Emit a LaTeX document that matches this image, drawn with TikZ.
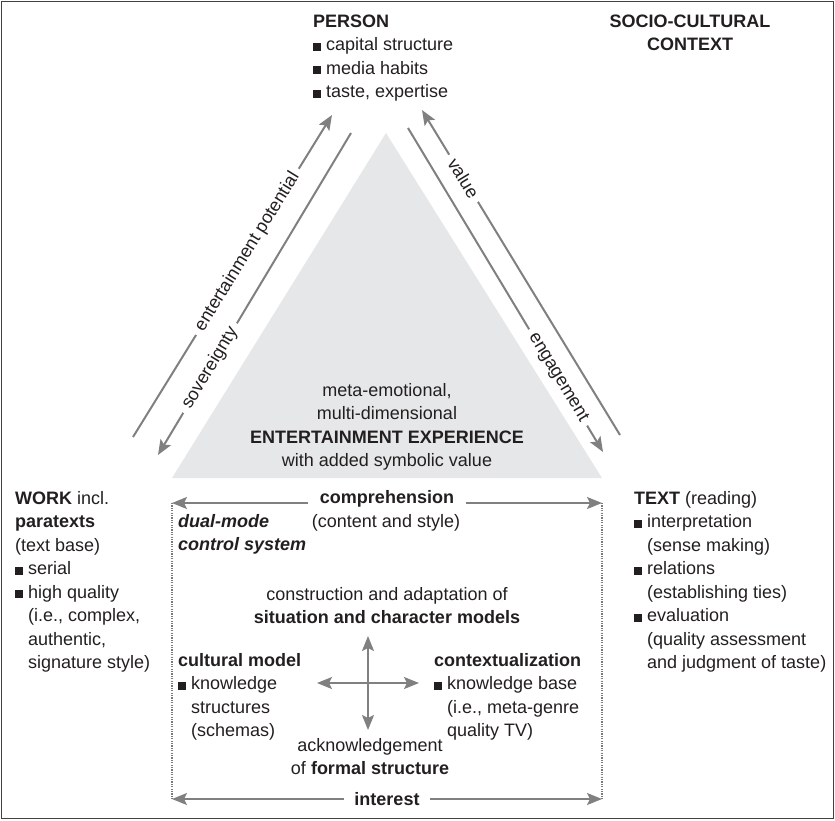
\documentclass[tikz,border=0pt]{standalone}
\usepackage{fontspec}
\setmainfont{Liberation Sans}
\usetikzlibrary{arrows.meta}
\definecolor{ink}{HTML}{231F20}
\definecolor{arr}{HTML}{808080}
\definecolor{tri}{HTML}{E6E7E8}
% square bullet and the indent that lines up with it
\newcommand\sq{\rule{0.42em}{0.42em}\hspace{0.3em}}
\newcommand\ind{\hphantom{\sq}}

\begin{document}
\begin{tikzpicture}[x=1pt,y=-1pt,>={Stealth[length=15pt,width=12pt,inset=3pt]},
    every node/.style={inner sep=0pt,text=ink,font=\fontsize{18}{23.5}\selectfont},
    txt/.style={align=left,anchor=base west},
    mid/.style={align=center,anchor=base},
    arrow/.style={draw=arr,line width=2pt},
    lbl/.style={sloped,fill=white,inner xsep=6pt,inner ysep=2pt}]
  % (blocks are placed by the baseline of their last line)
  \useasboundingbox (0,0) rectangle (835,820);
  \draw[ink!85,line width=1.5pt] (1.5,1.5) rectangle (833.5,818.5);

  % experience triangle
  \fill[tri] (386,133) -- (602,478) -- (172,478) -- cycle;
  \node[mid] (exp) at (387,466.5) {meta-emotional,\\ multi-dimensional\\
    \textbf{ENTERTAINMENT EXPERIENCE}\\ with added symbolic value};

  % left side arrows
  \coordinate (lo1) at (133,437); \coordinate (lo2) at (332,115);
  \coordinate (li1) at (351,133); \coordinate (li2) at (158,455);
  \draw[arrow,->] (lo1) -- node[lbl,pos=0.575] {entertainment potential} (lo2);
  \draw[arrow,->] (li1) -- node[lbl,pos=0.73] {sovereignty} (li2);
  % right side arrows
  \coordinate (ro1) at (620,435); \coordinate (ro2) at (422,110);
  \coordinate (ri1) at (408,128); \coordinate (ri2) at (603,452);
  \draw[arrow,->] (ro1) -- node[lbl,pos=0.79] {value} (ro2);
  \draw[arrow,->] (ri1) -- node[lbl,pos=0.77] {engagement} (ri2);

  \node[txt] (person) at (313,97.5) {\textbf{PERSON}\\ \sq capital structure\\
    \sq media habits\\ \sq taste, expertise};
  \node[mid] (context) at (690,50.5) {\textbf{SOCIO-CULTURAL}\\ \textbf{CONTEXT}};
  \node[txt] (work) at (15,668.5) {\textbf{WORK} incl.\\ \textbf{paratexts}\\ (text base)\\
    \sq serial\\ \sq high quality\\ \ind(i.e., complex,\\ \ind authentic,\\ \ind signature style)};
  \node[txt] (text) at (634,668.5) {\textbf{TEXT} (reading)\\ \sq interpretation\\
    \ind(sense making)\\ \sq relations\\ \ind(establishing ties)\\ \sq evaluation\\
    \ind(quality assessment\\ \ind and judgment of taste)};

  % control system box
  \coordinate (ctl) at (172,503); \coordinate (ctr) at (602,503);
  \coordinate (cbl) at (172,799); \coordinate (cbr) at (602,799);
  \draw[ink!60,line width=1.2pt,dash pattern=on 1.2pt off 1.2pt] (ctl) -- (cbl) (ctr) -- (cbr);
  \draw[arrow,<->] (ctl) -- node[fill=white,inner xsep=12pt,anchor=base] {\textbf{comprehension}} (ctr);
  \draw[arrow,<->] (cbl) -- node[fill=white,inner xsep=10pt] {\textbf{interest}} (cbr);
  \node[mid] (style) at (386,527) {(content and style)};
  \node[txt] (dual) at (178,550.5) {\textbf{\textit{dual-mode}}\\ \textbf{\textit{control system}}};
  \node[mid] (models) at (387,623.5) {construction and adaptation of\\
    \textbf{situation and character models}};
  \node[txt] (cultural) at (178,736.5) {\textbf{cultural model}\\ \sq knowledge\\
    \ind structures\\ \ind(schemas)};
  \node[txt] (contextual) at (434,736.5) {\textbf{contextualization}\\ \sq knowledge base\\
    \ind(i.e., meta-genre\\ \ind quality TV)};
  \node[mid] (formal) at (370,774.5) {acknowledgement\\ of \textbf{formal structure}};

  % cross in the middle
  \coordinate (cn) at (368,636); \coordinate (cs) at (368,730);
  \coordinate (cw) at (317,683); \coordinate (ce) at (419,683);
  \draw[arrow,<->] (cn) -- (cs);
  \draw[arrow,<->] (cw) -- (ce);
\end{tikzpicture}
\end{document}
